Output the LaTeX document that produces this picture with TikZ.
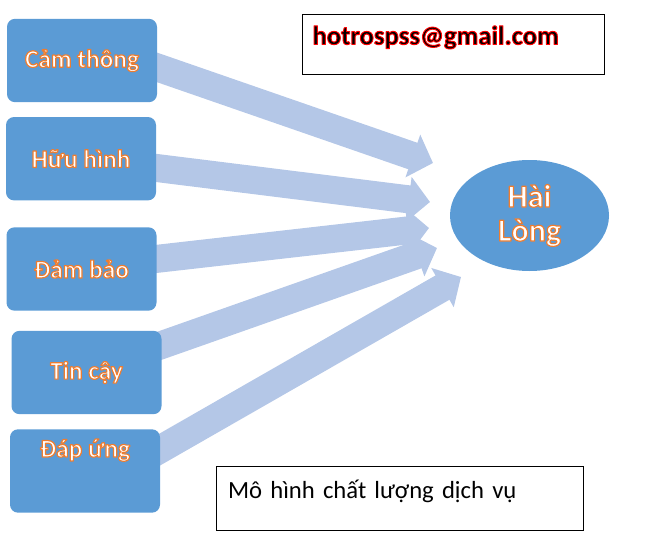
\documentclass[tikz,border=0pt]{standalone}
\usepackage{fontspec}
\setmainfont{Carlito}
\usetikzlibrary{arrows.meta,backgrounds,shapes.geometric}
\definecolor{boxblue}{HTML}{5B9BD5}
\definecolor{arrowblue}{HTML}{B4C7E7}
\definecolor{glow}{HTML}{ED7D31}
\newcommand{\glowtext}[1]{\special{pdf:literal direct 2 Tr 0.9 w 1 j 0.929 0.490 0.192 RG}#1\special{pdf:literal direct 0 Tr 0.3985 w 0 j 0 G}}
\newcommand{\mailtext}[1]{\special{pdf:literal direct 2 Tr 0.7 w 1 j 1 0 0 RG}#1\special{pdf:literal direct 0 Tr 0.3985 w 0 j 0 G}}
\begin{document}
\begin{tikzpicture}[x=0.75pt,y=-0.75pt,
  factor/.style={fill=boxblue,rounded corners=6pt,minimum width=112.5pt,minimum height=62.5pt,
    text=white,font=\bfseries\fontsize{19}{23}\selectfont},
  flow/.style={draw=arrowblue,line width=21pt,-{Triangle[length=16pt,width=33pt]}},
  note/.style={draw,line width=0.75pt,align=left,text height=10pt,text depth=10pt}]
  \useasboundingbox (0,0) rectangle (657,542);
  \node[factor] (cam) at (82,60.5) {\glowtext{Cảm thông}};
  \node[factor] (huu) at (81,158.7) {\glowtext{Hữu hình}};
  \node[factor] (dam) at (81.5,269) {\glowtext{Đảm bảo}};
  \node[factor] (tin) at (86.5,372.5) {\glowtext{Tin cậy}};
  \node[factor,text height=14pt,text depth=35pt] (dap) at (85,471) {\glowtext{Đáp ứng}};
  \node[ellipse,fill=boxblue,minimum width=119.25pt,minimum height=83.25pt,inner sep=0pt,
    text=white,align=center,font=\bfseries\fontsize{24}{25.5}\selectfont] (hl) at (529.5,215.5)
    {\glowtext{Hài}\\\glowtext{Lòng}};
  \node[note,text width=211.5pt,inner xsep=7.5pt,minimum height=45pt,
    font=\bfseries\fontsize{20}{24}\selectfont] (mail) at (453.5,44.5) {\mailtext{hotrospss@gmail.com}};
  \node[note,text width=257.25pt,inner xsep=9pt,minimum height=48pt,
    font=\fontsize{18.5}{22}\selectfont] (cap) at (399.5,498) {Mô hình chất lượng dịch vụ};
  \coordinate (t1) at (433,163);
  \coordinate (t2) at (430,202);
  \coordinate (t3) at (429,228);
  \coordinate (t4) at (437,248);
  \coordinate (t5) at (461,277);
  \begin{scope}[on background layer]
    \draw[flow] ([shift={(-10,3.5)}]cam.east) -- (t1);
    \draw[flow] ([shift={(-10,8)}]huu.east) -- (t2);
    \draw[flow] ([shift={(-10,-9)}]dam.east) -- (t3);
    \draw[flow] ([shift={(-10,-24)}]tin.east) -- (t4);
    \draw[flow] ([shift={(-10,-16)}]dap.east) -- (t5);
  \end{scope}
\end{tikzpicture}
\end{document}
